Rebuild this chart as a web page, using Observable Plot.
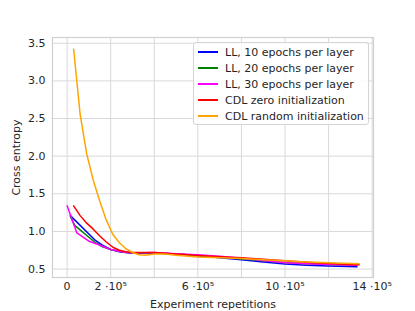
<!DOCTYPE html>
<html>
<head>
<meta charset="utf-8">
<script src="https://cdn.jsdelivr.net/npm/d3@7"></script>
<script src="https://cdn.jsdelivr.net/npm/@observablehq/plot@0.6"></script>
<style>
  body { margin: 0; background: #fff; }
  #wrap { position: relative; width: 415px; height: 311px; font-family: "DejaVu Sans", sans-serif; }
  #legend { position: absolute; left: 193px; top: 42px; width: 176px; height: 83px;
    background: rgba(255,255,255,0.85); border: 1px solid #d4d4d4; border-radius: 3px; box-sizing: border-box;
    font-size: 11px; color: #262626; padding-top: 1px; }
  .row { display: flex; align-items: center; height: 16px; }
  .sw { width: 20px; height: 2px; margin-left: 4px; margin-right: 7px; }
</style>
</head>
<body>
<div id="wrap"></div>
<script>
const seriesNames = ["LL, 10 epochs per layer", "LL, 20 epochs per layer", "LL, 30 epochs per layer", "CDL zero initialization", "CDL random initialization"];
const seriesColors = ["blue", "green", "magenta", "red", "orange"];

const xBlue = [15000, 130000, 160000, 200000, 240000, 300000, 400000, 500000, 600000, 700000, 800000, 900000, 1000000, 1100000, 1200000, 1330000];
const yBlue = [1.21, 0.88, 0.82, 0.76, 0.73, 0.71, 0.715, 0.70, 0.68, 0.65, 0.625, 0.595, 0.568, 0.55, 0.54, 0.53];

const xGreen = [15000, 35000, 130000, 160000, 200000, 250000, 300000, 400000, 500000, 600000, 700000, 800000, 900000, 1000000, 1100000, 1200000, 1330000];
const yGreen = [1.2, 1.08, 0.85, 0.80, 0.76, 0.73, 0.715, 0.715, 0.70, 0.68, 0.66, 0.635, 0.61, 0.585, 0.57, 0.56, 0.55];

const xMagenta = [0, 45000, 100000, 140000, 200000, 250000, 300000, 400000, 500000, 600000, 700000, 800000, 900000, 1000000, 1100000, 1200000, 1330000];
const yMagenta = [1.34, 0.98, 0.87, 0.83, 0.76, 0.73, 0.715, 0.72, 0.705, 0.69, 0.67, 0.645, 0.615, 0.585, 0.57, 0.56, 0.55];

const xRed = [30000, 60000, 90000, 120000, 150000, 180000, 210000, 240000, 270000, 300000, 400000, 500000, 600000, 700000, 800000, 900000, 1000000, 1100000, 1200000, 1300000, 1340000];
const yRed = [1.34, 1.21, 1.11, 1.03, 0.94, 0.86, 0.79, 0.75, 0.73, 0.72, 0.72, 0.70, 0.68, 0.665, 0.65, 0.63, 0.61, 0.59, 0.575, 0.56, 0.557];

const xOrange = [30000, 60000, 90000, 120000, 150000, 180000, 210000, 240000, 270000, 300000, 330000, 360000, 400000, 450000, 500000, 600000, 700000, 800000, 900000, 1000000, 1100000, 1200000, 1300000, 1340000];
const yOrange = [3.42, 2.55, 2.03, 1.68, 1.40, 1.15, 0.96, 0.85, 0.77, 0.72, 0.69, 0.685, 0.70, 0.70, 0.685, 0.66, 0.65, 0.64, 0.625, 0.61, 0.595, 0.585, 0.575, 0.57];

const xTickValues = [0, 200000, 400000, 600000, 800000, 1000000, 1200000, 1400000];
const xTickLabels = ["0", "2 ·10⁵", "", "6 ·10⁵", "", "10 ·10⁵", "", "14 ·10⁵"];
const yTickValues = [0.5, 1.0, 1.5, 2.0, 2.5, 3.0, 3.5];
const yTickLabels = ["0.5", "1.0", "1.5", "2.0", "2.5", "3.0", "3.5"];

const xs = [xBlue, xGreen, xMagenta, xRed, xOrange];
const ys = [yBlue, yGreen, yMagenta, yRed, yOrange];
const rows = [];
xs.forEach((xa, i) => xa.forEach((x, j) => rows.push({series: seriesNames[i], x, y: ys[i][j]})));

const chart = Plot.plot({
  width: 415, height: 311,
  marginLeft: 52, marginRight: 42, marginTop: 37, marginBottom: 34,
  style: {fontFamily: "DejaVu Sans, sans-serif", fontSize: "11px", color: "#262626", background: "#fff"},
  x: {domain: [-67000, 1406000]},
  y: {domain: [0.388, 3.576]},
  color: {domain: seriesNames, range: seriesColors},
  marks: [
    Plot.gridX(xTickValues, {stroke: "#d9d9d9", strokeOpacity: 1, strokeWidth: 1}),
    Plot.gridY(yTickValues, {stroke: "#d9d9d9", strokeOpacity: 1, strokeWidth: 1}),
    Plot.frame({stroke: "#d0d0d0", strokeWidth: 1.2}),
    Plot.axisX({ticks: xTickValues, tickSize: 0, tickPadding: 5, tickFormat: (d) => xTickLabels[xTickValues.indexOf(d)],
      label: "Experiment repetitions", labelAnchor: "center", labelArrow: "none", labelOffset: 30, fontSize: 11}),
    Plot.axisY({ticks: yTickValues, tickSize: 0, tickPadding: 7, tickFormat: (d) => yTickLabels[yTickValues.findIndex(v => Math.abs(v - d) < 1e-9)],
      label: "Cross entropy", labelAnchor: "center", labelArrow: "none", labelOffset: 40, fontSize: 11}),
    Plot.line(rows, {x: "x", y: "y", z: "series", stroke: "series", strokeWidth: 1.5, curve: "linear"})
  ]
});
const wrap = document.getElementById("wrap");
wrap.appendChild(chart);

const legend = document.createElement("div");
legend.id = "legend";
seriesNames.forEach((n, i) => {
  const r = document.createElement("div");
  r.className = "row";
  const s = document.createElement("div");
  s.className = "sw";
  s.style.background = seriesColors[i];
  const t = document.createElement("span");
  t.textContent = n;
  r.appendChild(s); r.appendChild(t);
  legend.appendChild(r);
});
wrap.appendChild(legend);
</script>
</body>
</html>
